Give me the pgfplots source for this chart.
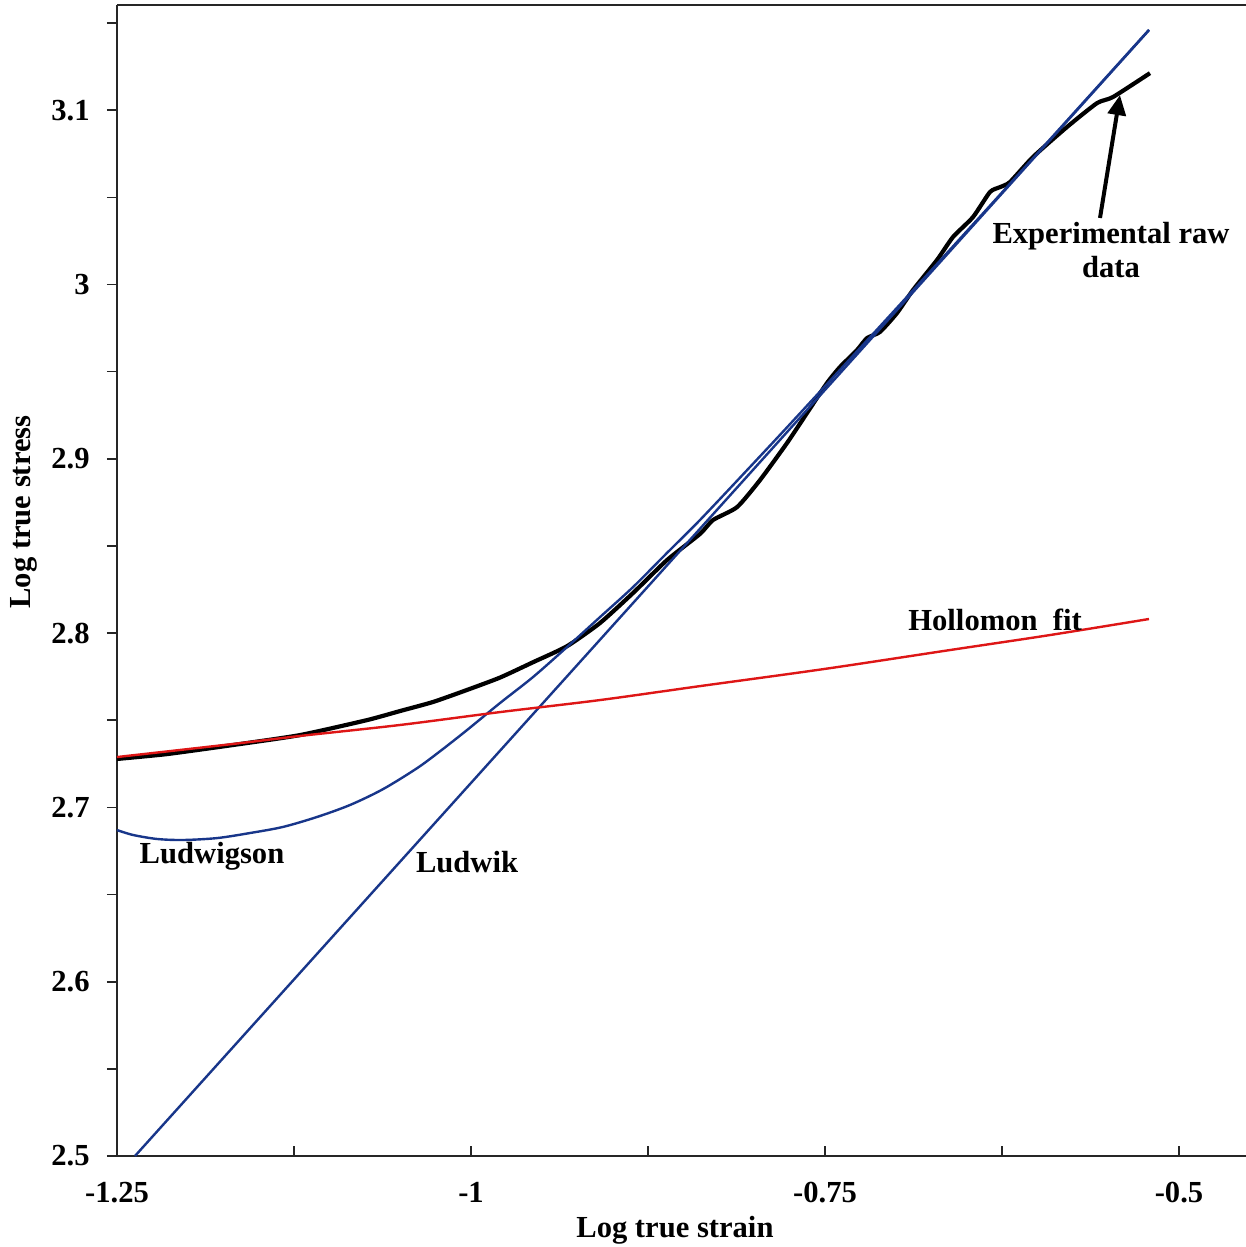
\documentclass[border=0pt]{standalone}
\usepackage{fontspec}
\setmainfont{Liberation Serif}
\usepackage{pgfplots}
\pgfplotsset{compat=1.18}
\usetikzlibrary{arrows.meta}
\definecolor{fitblue}{RGB}{24,54,138}
\definecolor{fitred}{RGB}{222,22,22}
\begin{document}
\begin{tikzpicture}[font=\fontsize{15.3}{17}\selectfont\bfseries]
\begin{axis}[
  scale only axis,
  width=564.5pt, height=575.5pt,
  xmin=-1.25, xmax=-0.4527,
  ymin=2.5, ymax=3.1604,
  axis x line*=bottom, axis y line*=left,
  axis line style={line width=1pt, color=black!85},
  xtick={-1.25,-1,-0.75,-0.5},
  xticklabels={-1.25,-1,-0.75,-0.5},
  minor xtick={-1.125,-0.875,-0.625},
  ytick={2.5,2.6,2.7,2.8,2.9,3.0,3.1},
  yticklabels={2.5,2.6,2.7,2.8,2.9,3,3.1},
  minor ytick={2.55,2.65,2.75,2.85,2.95,3.05,3.15},
  xtick align=inside, ytick align=outside,
  major tick length=5pt, minor tick length=5pt,
  every tick/.style={line width=0.8pt, color=black!85},
  xticklabel style={anchor=north, inner sep=0pt, yshift=-13pt, font=\fontsize{15.3}{17}\selectfont\bfseries},
  yticklabel style={anchor=east, inner sep=0pt, xshift=-8.5pt, font=\fontsize{15.3}{17}\selectfont\bfseries},
  every axis x label/.style={at={(rel axis cs:0.4942,0)}, yshift=-37pt, anchor=center},
  every axis y label/.style={at={(rel axis cs:0,0.5595)}, xshift=-46.5pt, rotate=90, anchor=center},
  xlabel={Log true strain},
  ylabel={Log true stress},
  clip=false,
]
% Experimental raw data
\addplot[black, line width=2.1pt, line join=round, smooth, tension=0.35] coordinates {
(-1.2500,2.7278) (-1.2147,2.7306) (-1.1681,2.7358) (-1.1208,2.7415)
(-1.0734,2.7501) (-1.0501,2.7553) (-1.0268,2.7605) (-1.0028,2.7674)
(-0.9795,2.7745) (-0.9562,2.7833) (-0.9322,2.7925) (-0.9089,2.8058)
(-0.8856,2.8230) (-0.8616,2.8419) (-0.8383,2.8569) (-0.8291,2.8649)
(-0.8121,2.8723) (-0.7959,2.8878) (-0.7768,2.9091) (-0.7627,2.9263)
(-0.7486,2.9435) (-0.7394,2.9527) (-0.7274,2.9624) (-0.7203,2.9693)
(-0.7112,2.9728) (-0.6992,2.9836) (-0.6879,2.9968) (-0.6709,3.0141)
(-0.6596,3.0273) (-0.6455,3.0387) (-0.6335,3.0531) (-0.6264,3.0559)
(-0.6194,3.0588) (-0.6031,3.0732) (-0.5791,3.0904) (-0.5579,3.1041)
(-0.5466,3.1076) (-0.5205,3.1213)
};
% Ludwik
\addplot[fitblue, line width=1.2pt] coordinates {
(-1.2373,2.5000) (-0.5212,3.1459)
};
% Ludwigson
\addplot[fitblue, line width=1.2pt, smooth] coordinates {
(-1.2500,2.6870) (-1.2387,2.6842) (-1.2218,2.6819) (-1.2034,2.6813)
(-1.1794,2.6824) (-1.1561,2.6853) (-1.1328,2.6888) (-1.1088,2.6945)
(-1.0854,2.7014) (-1.0621,2.7105) (-1.0381,2.7225) (-1.0219,2.7322)
(-1.0028,2.7444) (-0.9795,2.7599) (-0.9562,2.7748) (-0.9322,2.7920)
(-0.9089,2.8092) (-0.8856,2.8264) (-0.8616,2.8460) (-0.8383,2.8649)
(-0.8030,2.8953) (-0.7677,2.9261) (-0.6970,2.9886) (-0.6264,3.0516)
(-0.5212,3.1462)
};
% Hollomon fit
\addplot[fitred, line width=1.2pt, smooth] coordinates {
(-1.2500,2.7289) (-1.1681,2.7364) (-1.1208,2.7410) (-1.0501,2.7473)
(-0.9795,2.7547) (-0.9089,2.7616) (-0.8383,2.7696) (-0.7507,2.7794)
(-0.6617,2.7903) (-0.5911,2.7989) (-0.5212,2.8081)
};
\draw[line width=1pt, color=black!85] (rel axis cs:0,1) -- (rel axis cs:1,1);
\node[align=center] at (axis cs:-0.5480,3.0198) {Experimental raw\\data};
\draw[black, line width=2pt, -{Triangle[length=10pt,width=9pt]}] (axis cs:-0.5558,3.0382) -- (axis cs:-0.5417,3.1087);
\node at (axis cs:-0.6299,2.8075) {Hollomon\ \ fit};
\node at (axis cs:-1.1829,2.6721) {Ludwigson};
\node at (axis cs:-1.0028,2.6687) {Ludwik};
\coordinate (bl) at (rel axis cs:0,0);
\coordinate (tr) at (rel axis cs:1,1);
\end{axis}
\pgfresetboundingbox
\path[use as bounding box] ([xshift=-58.5pt,yshift=-45.5pt]bl) rectangle ([yshift=2.5pt]tr);
\end{tikzpicture}
\end{document}
